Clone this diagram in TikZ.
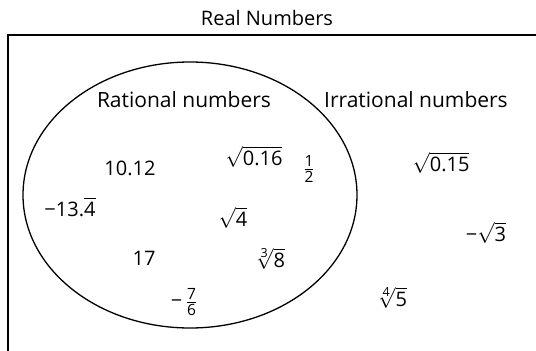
\documentclass[tikz,border=0pt]{standalone}
\usepackage{amsmath}
\usepackage{fontspec}
\setmainfont{Open Sans}
\setsansfont{Open Sans}
\newcommand{\tx}[1]{\text{#1}}
\newcommand{\fd}[1]{\text{\fontsize{15.5}{16}\selectfont #1}}
\newcommand{\ix}[1]{\text{\fontsize{12.5}{13}\selectfont #1}}
\begin{document}
\begin{tikzpicture}[x=1pt,y=-1pt,
  title/.style={font=\fontsize{20}{22}\selectfont, inner sep=0pt},
  lbl/.style={font=\fontsize{21}{23}\selectfont, inner sep=0pt},
  num/.style={font=\fontsize{20}{22}\selectfont, inner sep=0pt}]
\useasboundingbox (0,0) rectangle (536,351);
\draw[line width=1.8pt] (8,360) -- (8,35) -- (545,35);
\draw[line width=1.3pt] (190,195) ellipse [x radius=167, y radius=133];
\node[title] (real) at (267,18) {Real Numbers};
\node[lbl] (rat) at (184,100) {Rational numbers};
\node[lbl] (irr) at (416,100) {Irrational numbers};
\node[num] (a) at (130,168) {10.12};
\node[num] (b) at (70,207) {$\tx{−13.}\overline{\tx{4}}$};
\node[num] (c) at (144,258) {17};
\node[num] (d) at (184,302) {$\tx{−}\,\frac{\fd{7}}{\fd{6}}$};
\node[num] (e) at (254,157) {$\sqrt{\tx{0.16}}$};
\node[num] (f) at (233,218) {$\sqrt{\tx{4}}$};
\node[num] (g) at (270,259) {$\sqrt[\ix{3}]{\tx{8}}$};
\node[num] (h) at (309,169) {$\frac{\fd{1}}{\fd{2}}$};
\node[num] (i) at (441,163) {$\sqrt{\tx{0.15}}$};
\node[num] (j) at (486,233) {$\tx{−}\sqrt{\tx{3}}$};
\node[num] (k) at (392,298) {$\sqrt[\ix{4}]{\tx{5}}$};
\end{tikzpicture}
\end{document}
